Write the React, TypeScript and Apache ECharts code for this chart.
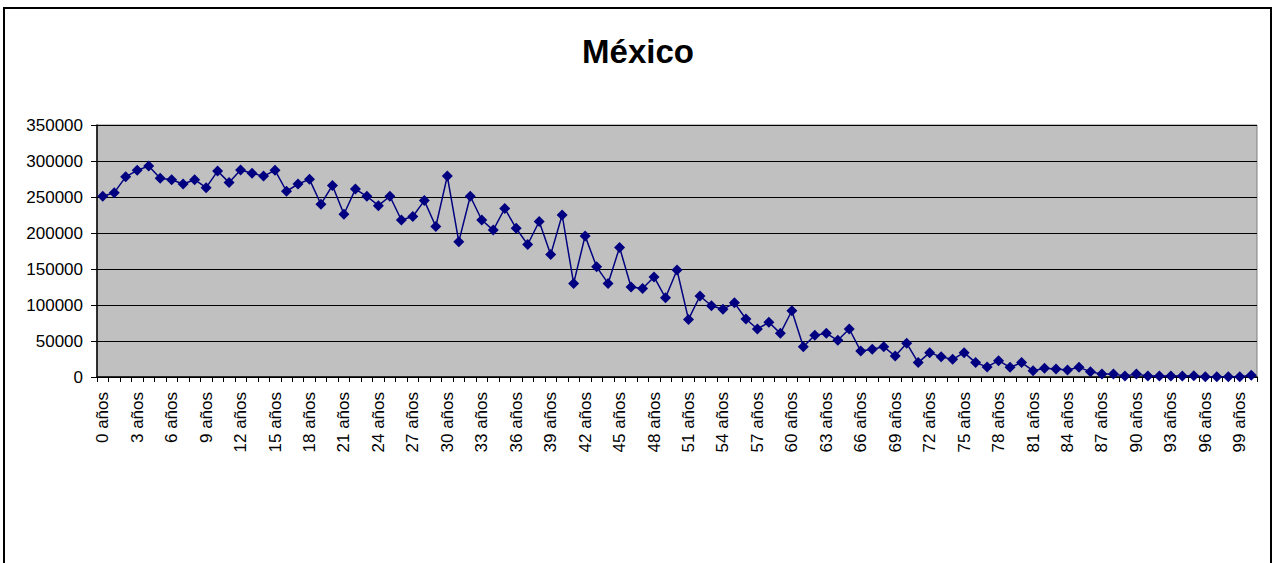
import React, { useEffect, useRef } from "react";
import * as echarts from "echarts";

const title = "México";
const ages: number[] = Array.from({ length: 101 }, (_, i) => i);
const categories: string[] = ages.map((a) => `${a} años`);
const population: number[] = [
  251000, 256000, 278000, 287000, 293000, 276000, 274000, 268000, 274000, 263000,
  286000, 270000, 287500, 283000, 279000, 287000, 258000, 268000, 274500, 240000,
  266000, 226000, 261000, 251000, 238000, 251000, 218000, 223000, 245000, 209000,
  279000, 188000, 251000, 218000, 204000, 234000, 206500, 184000, 216000, 170000,
  225000, 130000, 196000, 153000, 130000, 180000, 125000, 123000, 139000, 110000,
  148600, 80000, 112500, 99000, 94000, 103000, 80500, 66700, 76000, 60600,
  92000, 42000, 58000, 60600, 51000, 66700, 36000, 38400, 42000, 29000,
  46800, 20000, 33800, 28000, 24500, 33800, 20000, 14000, 22700, 13400,
  20000, 8800, 12000, 11000, 9700, 13400, 7400, 4000, 4000, 1400,
  4000, 1400, 1400, 1400, 1400, 1600, 500, 500, 500, 500,
  2300,
];
const yMin = 0;
const yMax = 350000;
const yStep = 50000;

export default function App() {
  const ref = useRef<HTMLDivElement>(null);
  useEffect(() => {
    if (!ref.current) return;
    const chart = echarts.init(ref.current, null, { renderer: "svg" });
    chart.setOption({
      animation: false,
      backgroundColor: "#ffffff",
      textStyle: { fontFamily: "Liberation Sans, Arial, sans-serif" },
      title: {
        text: title,
        left: "center",
        top: 35,
        padding: 0,
        textStyle: {
          fontFamily: "Liberation Sans, Arial, sans-serif",
          fontSize: 33,
          fontWeight: "bold",
          color: "#000000",
        },
      },
      graphic: [
        {
          type: "rect",
          shape: { x: 4, y: 8, width: 1267, height: 620 },
          style: { fill: "none", stroke: "#000000", lineWidth: 2 },
          silent: true,
          z: 100,
        },
      ],
      grid: {
        left: 97,
        top: 125,
        right: 19,
        bottom: 186,
        show: true,
        backgroundColor: "#C0C0C0",
        borderColor: "#808080",
        borderWidth: 1,
      },
      xAxis: {
        type: "category",
        data: categories,
        boundaryGap: true,
        axisLine: { show: true, lineStyle: { color: "#000000", width: 1.5 } },
        axisTick: { show: true, interval: 0, length: 5, lineStyle: { color: "#000000" } },
        axisLabel: {
          interval: 2,
          rotate: 90,
          margin: 15,
          fontSize: 17,
          color: "#000000",
          fontFamily: "Liberation Sans, Arial, sans-serif",
        },
        splitLine: { show: false },
      },
      yAxis: {
        type: "value",
        min: yMin,
        max: yMax,
        interval: yStep,
        axisLine: { show: true, lineStyle: { color: "#000000", width: 1.5 } },
        axisTick: { show: true, length: 6, lineStyle: { color: "#000000" } },
        axisLabel: {
          fontSize: 17,
          color: "#000000",
          margin: 14,
          formatter: (v: number) => String(v),
          fontFamily: "Liberation Sans, Arial, sans-serif",
        },
        splitLine: { show: true, lineStyle: { color: "#000000", width: 1.2 } },
      },
      series: [
        {
          type: "line",
          data: population,
          symbol: "diamond",
          symbolSize: 11,
          showAllSymbol: true,
          lineStyle: { color: "#000080", width: 1.5 },
          itemStyle: { color: "#000080" },
        },
      ],
    });
    return () => chart.dispose();
  }, []);
  return (
    <div
      ref={ref}
      style={{ position: "fixed", left: 0, top: 0, width: 1276, height: 563 }}
    />
  );
}
